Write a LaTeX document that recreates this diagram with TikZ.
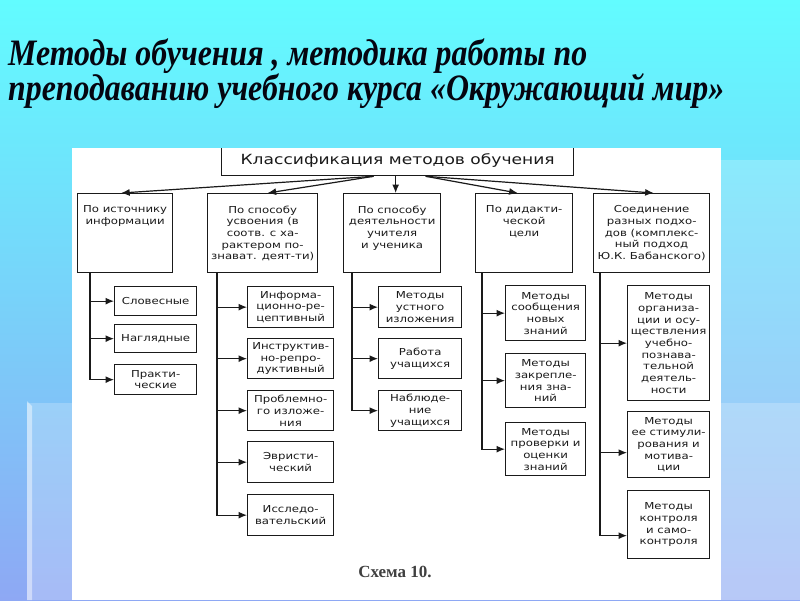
\documentclass[tikz,border=0pt]{standalone}
\usepackage{fontspec}
\usetikzlibrary{arrows.meta,calc}
\newfontfamily\diagfont[FakeStretch=1.22]{DejaVu Sans}
\newfontfamily\ttlfont{Liberation Serif}
\newfontfamily\schfont{Liberation Serif}
\newcommand{\dgfont}{\diagfont\fontsize{9.6}{11.7}\selectfont}
\newcommand{\topfont}{\diagfont\fontsize{14}{16}\selectfont}
\newcommand{\tb}[3]{\parbox[c][#2][t]{#1}{\centering\vspace*{11pt}#3\par}}
\definecolor{bgtop}{HTML}{62FCFF}
\definecolor{bgmid}{HTML}{74D2FA}
\definecolor{bgbot}{HTML}{8EA8F4}
\definecolor{ttlcol}{HTML}{050510}
\definecolor{ink}{HTML}{1A1A1A}
\begin{document}
\begin{tikzpicture}[x=1pt,y=-1pt,
  box/.style={draw=ink, line width=1.3pt, anchor=north west, inner sep=1pt, align=center, text=ink, font=\dgfont},
  arr/.style={draw=ink, line width=1.2pt, -{Latex[length=8.5pt,width=7pt]}},
  ttl/.style={anchor=base west, inner sep=0pt, text=ttlcol, font=\ttlfont\bfseries\itshape\fontsize{33}{38}\selectfont}
]
\useasboundingbox (0,0) rectangle (800,600);
% background
\shade[top color=bgtop, middle color=bgmid, bottom color=bgbot] (0,0) rectangle (800,600);
\fill[white, opacity=0.2] (721,160) rectangle (800,600);
\fill[white, opacity=0.22] (27,403) rectangle (800,600);
\fill[white, opacity=0.45] (27,401) -- (32,406) -- (32,600) -- (27,600) -- cycle;
\fill[white] (72,148) rectangle (721,600);

% title
\node[ttl] (t1) at (8,65) {\scalebox{0.965}[1.13]{Методы обучения , методика работы по}};
\node[ttl] (t2) at (8,100) {\scalebox{0.965}[1.13]{преподаванию учебного курса «Окружающий мир»}};

\begin{scope}
\clip (72,148) rectangle (721,600);
\node[box, minimum width=352, minimum height=30, font=\topfont] (top) at (221,145) {Классификация методов обучения};

% level 1
\node[box, inner sep=0pt, minimum width=95, minimum height=79] (b1) at (77,193)
  {\tb{91pt}{77pt}{По источнику\\информации}};
\node[box, inner sep=0pt, minimum width=110, minimum height=79] (b2) at (207,193)
  {\tb{106pt}{77pt}{По способу\\усвоения (в\\соотв. с ха-\\рактером по-\\знават. деят-ти)}};
\node[box, inner sep=0pt, minimum width=97, minimum height=79] (b3) at (343,193)
  {\tb{93pt}{77pt}{По способу\\деятельности\\учителя\\и ученика}};
\node[box, inner sep=0pt, minimum width=97, minimum height=79] (b4) at (475,193)
  {\tb{93pt}{77pt}{По дидакти-\\ческой\\цели}};
\node[box, inner sep=0pt, minimum width=116, minimum height=79] (b5) at (593,193)
  {\tb{112pt}{77pt}{Соединение\\разных подхо-\\дов (комплекс-\\ный подход\\Ю.К. Бабанского)}};

\coordinate (oL) at ([xshift=-24pt]top.south);
\coordinate (oR) at ([xshift=28pt]top.south);
\draw[arr] (oL) -- ([xshift=-4pt]b1.north);
\draw[arr] (oL) -- ([xshift=5pt]b2.north);
\draw[arr] ([xshift=3.5pt]b3.north |- top.south) -- ([xshift=3.5pt]b3.north);
\draw[arr] (oR) -- ([xshift=-6.5pt]b4.north);
\draw[arr] (oR) -- ([xshift=2pt]b5.north);

% column 1
\node[box, minimum width=82, minimum height=29] (c11) at (114,286) {Словесные};
\node[box, minimum width=82, minimum height=28] (c12) at (114,324) {Наглядные};
\node[box, minimum width=82, minimum height=30] (c13) at (114,364) {Практи-\\ческие};
\foreach \c in {c11,c12,c13} \draw[arr] ([xshift=13pt]b1.south west) |- (\c.west);

% column 2
\node[box, minimum width=86, minimum height=41] (c21) at (247,286) {Информа-\\ционно-ре-\\цептивный};
\node[box, minimum width=86, minimum height=40] (c22) at (247,338) {Инструктив-\\но-репро-\\дуктивный};
\node[box, minimum width=86, minimum height=40] (c23) at (247,390) {Проблемно-\\го изложе-\\ния};
\node[box, minimum width=86, minimum height=41] (c24) at (247,441) {Эвристи-\\ческий};
\node[box, minimum width=86, minimum height=41] (c25) at (247,494) {Исследо-\\вательский};
\foreach \c in {c21,c22,c23,c24,c25} \draw[arr] ([xshift=10pt]b2.south west) |- (\c.west);

% column 3
\node[box, minimum width=83, minimum height=41] (c31) at (378,286) {Методы\\устного\\изложения};
\node[box, minimum width=83, minimum height=40] (c32) at (378,338) {Работа\\учащихся};
\node[box, minimum width=83, minimum height=40] (c33) at (378,390) {Наблюде-\\ние\\учащихся};
\foreach \c in {c31,c32,c33} \draw[arr] ([xshift=9pt]b3.south west) |- (\c.west);

% column 4
\node[box, minimum width=80, minimum height=55] (c41) at (505,285) {Методы\\сообщения\\новых\\знаний};
\node[box, minimum width=80, minimum height=54] (c42) at (505,353) {Методы\\закрепле-\\ния зна-\\ний};
\node[box, minimum width=80, minimum height=53] (c43) at (505,422) {Методы\\проверки и\\оценки\\знаний};
\foreach \c in {c41,c42,c43} \draw[arr] ([xshift=7pt]b4.south west) |- (\c.west);

% column 5
\node[box, minimum width=82, minimum height=115] (c51) at (627,285) {Методы\\организа-\\ции и осу-\\ществления\\учебно-\\познава-\\тельной\\деятель-\\ности};
\node[box, minimum width=82, minimum height=66] (c52) at (627,411) {Методы\\ее стимули-\\рования и\\мотива-\\ции};
\node[box, minimum width=82, minimum height=68] (c53) at (627,490) {Методы\\контроля\\и само-\\контроля};
\draw[arr] ([xshift=7pt]b5.south west) |- (c51.west);
\draw[arr] ([xshift=7pt]b5.south west) |- ([yshift=-8pt]c52.west);
\draw[arr] ([xshift=7pt]b5.south west) |- ([yshift=-11pt]c53.west);

\node[font=\schfont\bfseries\fontsize{17}{20}\selectfont, text=black!75, inner sep=0pt] (cap) at (395,572) {Схема 10.};
\end{scope}
\end{tikzpicture}
\end{document}
